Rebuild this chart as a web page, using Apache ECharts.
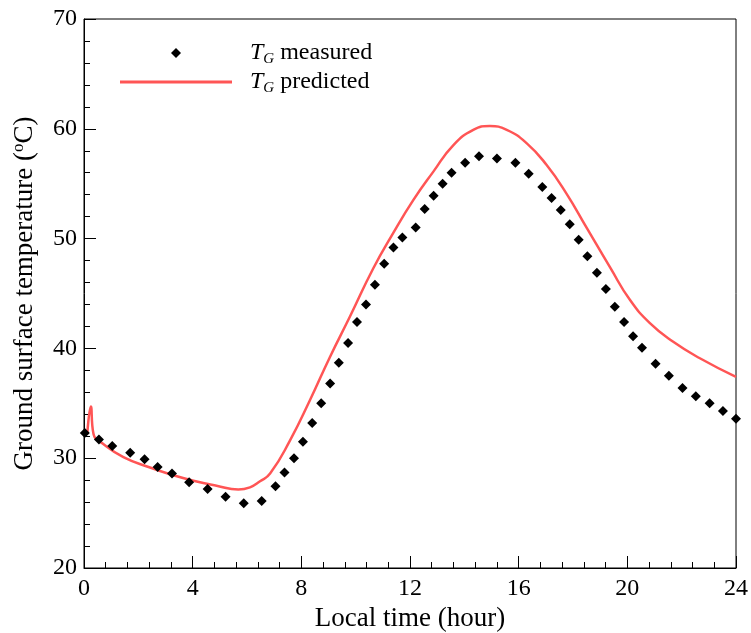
<!DOCTYPE html>
<html>
<head>
<meta charset="utf-8">
<script src="https://cdn.jsdelivr.net/npm/echarts@6/dist/echarts.min.js"></script>
<style>
  html, body { margin: 0; padding: 0; background: #fff; }
  #chart { width: 751px; height: 633px; }
</style>
</head>
<body>
<div id="chart"></div>
<script>
// measured ground surface temperature [hour, degC]
const measuredHours = [0.03, 0.55, 1.04, 1.70, 2.23, 2.71, 3.24, 3.87, 4.55, 5.21, 5.88, 6.54, 7.05, 7.38, 7.73, 8.06, 8.40, 8.73, 9.06, 9.38, 9.72, 10.05, 10.38, 10.71, 11.05, 11.39, 11.72, 12.21, 12.54, 12.87, 13.20, 13.53, 14.03, 14.54, 15.20, 15.88, 16.37, 16.87, 17.21, 17.55, 17.88, 18.21, 18.53, 18.88, 19.21, 19.54, 19.88, 20.21, 20.54, 21.04, 21.53, 22.03, 22.52, 23.03, 23.52, 24.0];
const measuredTemp = [32.3, 31.7, 31.1, 30.5, 29.9, 29.2, 28.6, 27.8, 27.2, 26.5, 25.9, 26.1, 27.45, 28.7, 30.0, 31.5, 33.2, 35.0, 36.8, 38.7, 40.5, 42.4, 44.0, 45.8, 47.7, 49.2, 50.1, 51.0, 52.7, 53.9, 55.0, 56.0, 56.9, 57.5, 57.3, 56.9, 55.9, 54.7, 53.7, 52.6, 51.3, 49.9, 48.4, 46.9, 45.4, 43.8, 42.4, 41.1, 40.05, 38.6, 37.5, 36.4, 35.65, 35.0, 34.3, 33.6];

// predicted ground surface temperature
const predictedHours = [0.12, 0.25, 0.35, 0.71, 1.45, 2.43, 3.29, 4.03, 4.88, 5.68, 6.11, 6.48, 6.85, 7.58, 8.32, 9.05, 9.79, 10.65, 11.38, 12.12, 12.86, 13.59, 14.33, 14.94, 15.56, 16.29, 17.03, 17.76, 18.50, 19.36, 20.10, 20.83, 21.69, 22.67, 24.0];
const predictedTemp = [32.2, 34.7, 32.2, 31.3, 30.1, 29.15, 28.45, 27.95, 27.5, 27.15, 27.35, 27.9, 28.6, 31.6, 35.3, 39.2, 42.9, 47.3, 50.5, 53.5, 56.1, 58.5, 59.9, 60.25, 59.9, 58.7, 56.7, 54.1, 51.0, 47.4, 44.4, 42.3, 40.6, 39.1, 37.4];

const xTicks = [0, 4, 8, 12, 16, 20, 24];
const yTicks = [20, 30, 40, 50, 60, 70];

const seriesNames = ["measured", "predicted"];

const font = "Liberation Serif";
const red = "#FF5555";

const chart = echarts.init(document.getElementById("chart"));

function legendText(pad) {
  return {
    fontFamily: font,
    fontSize: 24,
    color: "#000",
    padding: [0, 0, 0, pad],
    rich: {
      i: { fontStyle: "italic", fontFamily: font, fontSize: 24, color: "#000" },
      s: { fontStyle: "italic", fontFamily: font, fontSize: 15, color: "#000", verticalAlign: "bottom", padding: [12, 0, 0, 0] }
    }
  };
}
const fmt = function(name) {
  return "{i|T}{s|G} " + name;
};

chart.setOption({
  backgroundColor: "#fff",
  animation: false,
  textStyle: { fontFamily: font },
  grid: {
    left: 84,
    right: 15,
    top: 19,
    bottom: 65,
    outerBoundsMode: "none",
    show: true,
    borderColor: "#000",
    borderWidth: 1
  },
  legend: [
    {
      left: 166,
      top: 36,
      itemWidth: 10,
      itemHeight: 10,
      data: [{ name: seriesNames[0], icon: "diamond" }],
      formatter: fmt,
      textStyle: legendText(64)
    },
    {
      left: 115,
      top: 65,
      itemWidth: 112,
      itemHeight: 3,
      data: [{ name: seriesNames[1], icon: "rect" }],
      formatter: fmt,
      textStyle: legendText(13)
    }
  ],
  xAxis: {
    type: "value",
    min: xTicks[0],
    max: xTicks[xTicks.length - 1],
    interval: 4,
    name: "Local time (hour)",
    nameLocation: "middle",
    nameGap: 32,
    nameTextStyle: { fontFamily: font, fontSize: 27, color: "#000" },
    axisLine: { lineStyle: { color: "#000", width: 1 } },
    axisTick: { inside: true, length: 12, lineStyle: { color: "#000" } },
    minorTick: { show: true, splitNumber: 5, length: 6, lineStyle: { color: "#000" } },
    axisLabel: { fontFamily: font, fontSize: 24, color: "#000", margin: 9 },
    splitLine: { show: false }
  },
  yAxis: {
    type: "value",
    min: yTicks[0],
    max: yTicks[yTicks.length - 1],
    interval: 10,
    name: "Ground surface temperature ({sup|o}C)",
    nameLocation: "middle",
    nameGap: 45,
    nameTextStyle: {
      fontFamily: font,
      fontSize: 27,
      color: "#000",
      rich: {
        sup: { fontFamily: font, fontSize: 17, color: "#000", verticalAlign: "top", padding: [0, 0, 12, 0] }
      }
    },
    axisLine: { lineStyle: { color: "#000", width: 1 } },
    axisTick: { inside: true, length: 12, lineStyle: { color: "#000" } },
    minorTick: { show: true, splitNumber: 5, length: 6, lineStyle: { color: "#000" } },
    axisLabel: { fontFamily: font, fontSize: 24, color: "#000", margin: 7 },
    splitLine: { show: false }
  },
  series: [
    {
      name: seriesNames[0],
      type: "scatter",
      symbol: "diamond",
      symbolSize: 10,
      itemStyle: { color: "#000", opacity: 1 },
      data: measuredHours.map((h, i) => [h, measuredTemp[i]]),
      z: 3
    },
    {
      name: seriesNames[1],
      type: "line",
      symbol: "none",
      smooth: 0.5,
      lineStyle: { color: red, width: 2.5 },
      itemStyle: { color: red },
      data: predictedHours.map((h, i) => [h, predictedTemp[i]]),
      z: 2
    }
  ]
});
</script>
</body>
</html>
